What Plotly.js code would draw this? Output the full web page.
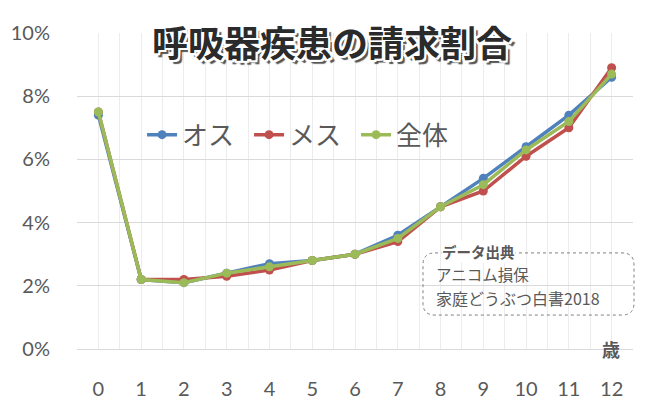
<!DOCTYPE html>
<html><head><meta charset="utf-8">
<script src="https://cdn.plot.ly/plotly-3.0.1.min.js"></script>
<style>html,body{margin:0;padding:0;background:#fff}#c{width:650px;height:414px}</style>
</head><body><div id="c"></div>
<script>
const ages = [0,1,2,3,4,5,6,7,8,9,10,11,12];
const ageLabels = ["0","1","2","3","4","5","6","7","8","9","10","11","12"];
const male = [7.4,2.2,2.1,2.4,2.7,2.8,3.0,3.6,4.5,5.4,6.4,7.4,8.6];
const female = [7.5,2.2,2.2,2.3,2.5,2.8,3.0,3.4,4.5,5.0,6.1,7.0,8.9];
const total = [7.5,2.2,2.1,2.4,2.6,2.8,3.0,3.5,4.5,5.2,6.3,7.2,8.7];
const seriesNames = ["オス","メス","全体"];
const yTicks = [0,2,4,6,8,10];
const yTickLabels = ["0%","2%","4%","6%","8%","10%"];

const colors = ["#4f81bd","#c0504d","#9bbb59"];
const data = [male,female,total].map((v,i)=>({
  x: ages, y: v, name: seriesNames[i], type:'scatter', mode:'lines+markers',
  line:{color:colors[i], width:3.5}, marker:{color:colors[i], size:9}
}));
const F = '"Noto Sans CJK JP", "Open Sans", sans-serif';
const T = 'Lato, "Noto Sans CJK JP", sans-serif';
const grey = '#595959';
const layout = {
  width:650, height:414,
  margin:{l:77, r:17, t:33, b:65},
  paper_bgcolor:'#fff', plot_bgcolor:'#fff',
  showlegend:true,
  legend:{orientation:'h', x:0.117, y:0.678, xanchor:'left', yanchor:'middle',
    font:{family:F, size:26, color:grey}, bgcolor:'rgba(0,0,0,0)', entrywidth:62, itemwidth:30},
  xaxis:{range:[-0.5,12.5], tickvals:ages, ticktext:ageLabels, showgrid:true, gridcolor:'#ececec',
    zeroline:false, showline:true, linecolor:'#d9d9d9', linewidth:1,
    ticks:'outside', ticklen:22, tickcolor:'rgba(0,0,0,0)',
    tickfont:{family:T, size:20, color:grey},
    minor:{tickvals:[-0.5,0.5,1.5,2.5,3.5,4.5,5.5,6.5,7.5,8.5,9.5,10.5,11.5,12.5], showgrid:true, gridcolor:'#ececec', ticklen:0},
    fixedrange:true},
  yaxis:{range:[0,10], tickvals:yTicks, ticktext:yTickLabels, showgrid:true, gridcolor:'#d9d9d9',
    zeroline:false, ticks:'outside', ticklen:22, tickcolor:'rgba(0,0,0,0)',
    tickfont:{family:T, size:20, color:grey}, fixedrange:true},
  shapes:[{type:'path', xref:'paper', yref:'paper',
    path:'M 0.6439 0.304 L 0.9802 0.304 Q 1.0018 0.304 1.0018 0.266 L 1.0018 0.1454 Q 1.0018 0.1074 0.9802 0.1074 L 0.6439 0.1074 Q 0.6223 0.1074 0.6223 0.1454 L 0.6223 0.266 Q 0.6223 0.304 0.6439 0.304 Z',
    line:{color:'#7f7f7f', width:1, dash:'dot'}}],
  annotations:[
    {text:'<b>呼吸器疾患の請求割合</b>', xref:'paper', yref:'paper', x:0.458, y:0.975, xanchor:'center', yanchor:'middle', showarrow:false,
     font:{family:F, size:36, weight:900, color:'#2b2b2b', shadow:'-2px -2px 0 #fff, 2px -2px 0 #fff, -2px 2px 0 #fff, 2px 2px 0 #fff, 0 2px 0 #fff, 2px 0 0 #fff, -2px 0 0 #fff, 0 -2px 0 #fff, 4px 4px 1px #555'}},
    {text:'<b>データ出典</b>', xref:'paper', yref:'paper', x:0.655, y:0.307, xanchor:'left', yanchor:'middle', showarrow:false,
     bgcolor:'#fff', borderpad:0, font:{family:F, size:14.5, color:grey}},
    {text:'アニコム損保', xref:'paper', yref:'paper', x:0.643, y:0.236, xanchor:'left', yanchor:'middle', showarrow:false,
     borderpad:0, font:{family:F, size:15.5, color:grey}},
    {text:'家庭どうぶつ白書2018', xref:'paper', yref:'paper', x:0.643, y:0.162, xanchor:'left', yanchor:'middle', showarrow:false,
     borderpad:0, font:{family:F, size:16, color:grey}},
    {text:'<b>歳</b>', xref:'paper', yref:'paper', x:0.960, y:0.0, xanchor:'center', yanchor:'middle', showarrow:false,
     font:{family:F, size:18, color:grey}}
  ]
};
Plotly.newPlot('c', data, layout, {staticPlot:true});
</script></body></html>
